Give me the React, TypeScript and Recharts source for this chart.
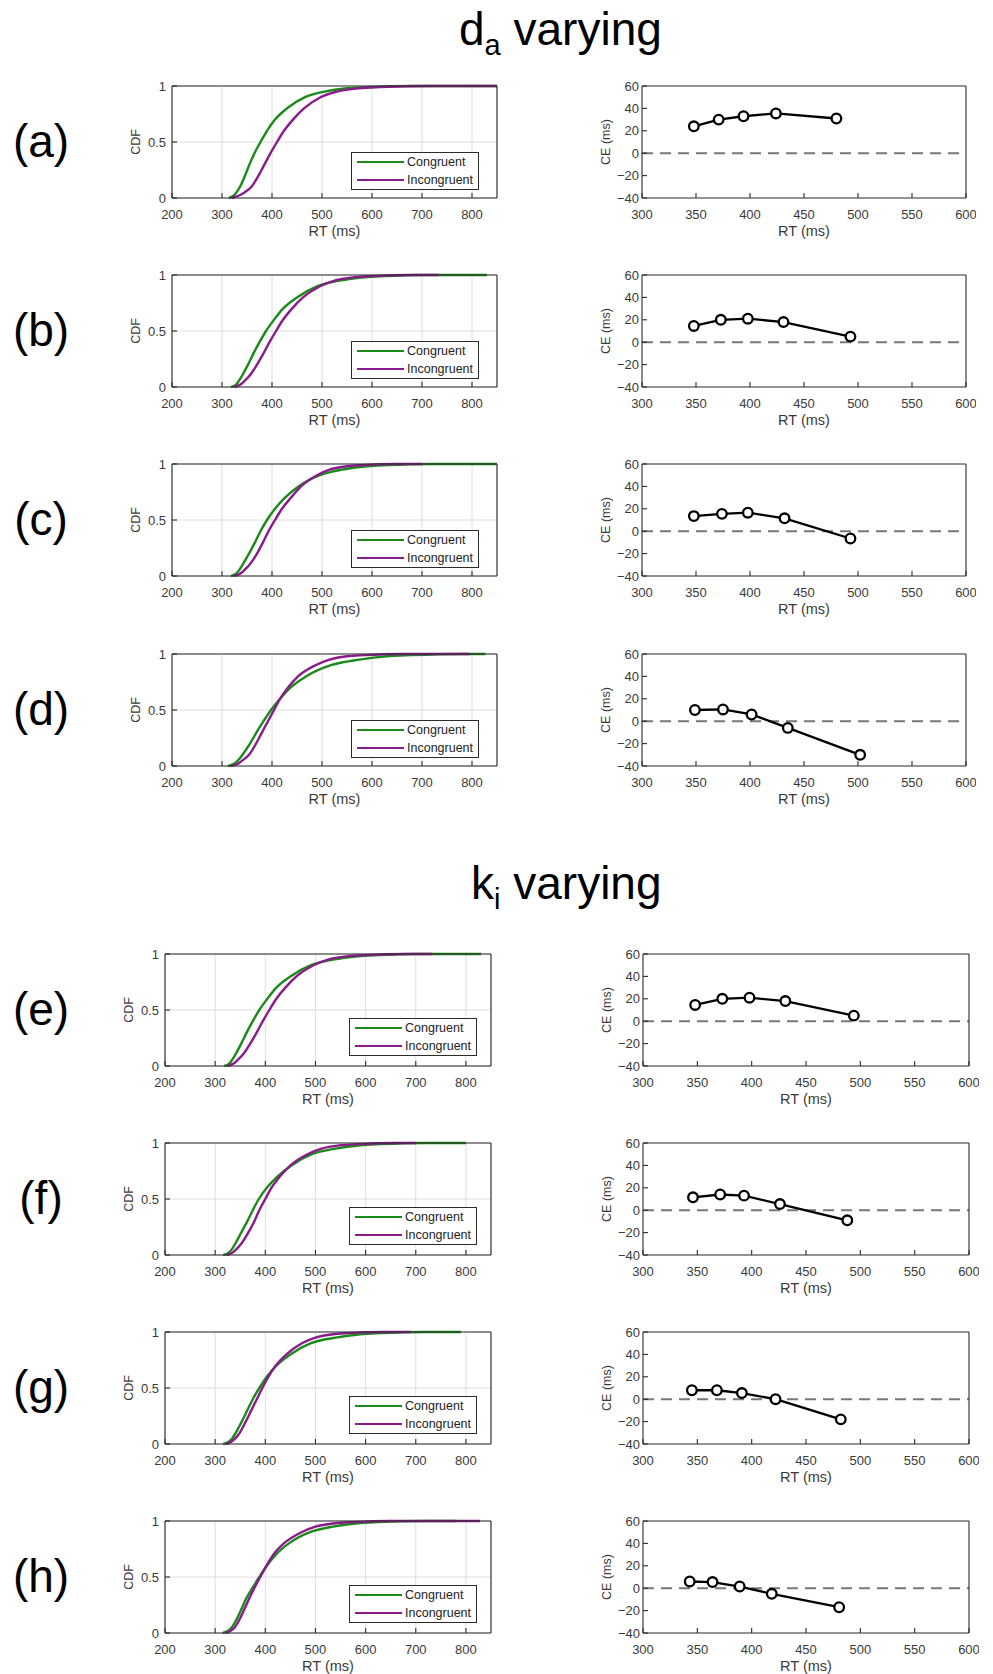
import React from "react";
import {
  LineChart,
  Line,
  XAxis,
  YAxis,
  CartesianGrid,
  Legend,
  ReferenceLine,
} from "recharts";

const FONT = '"Liberation Sans", Arial, sans-serif';
const INK = "#3a3a3a";
const BOX = "#2b2b2b";
const GRID = "#dedede";
const GREEN = "#1b8a1b";
const PURPLE = "#8b1a8b";
const ZERO = "#777777";

// cumulative probability at which each RT distribution is listed
const cdfLevels = [0, 0.02, 0.05, 0.1, 0.2, 0.3, 0.4, 0.5, 0.6, 0.7, 0.8, 0.9, 0.95, 0.98, 0.99, 1];

const cdfTicksX = [200, 300, 400, 500, 600, 700, 800];
const cdfTicksY = [0, 0.5, 1];
const ceTicksX = [300, 350, 400, 450, 500, 550, 600];
const ceTicksY = [-40, -20, 0, 20, 40, 60];

const panelLetters = ["a", "b", "c", "d", "e", "f", "g", "h"];

// RT quantiles (ms) at cdfLevels; *End is where the flat tail of the trace stops
const congA = [314, 323, 329, 336, 346, 355, 365, 377, 390, 406, 430, 466, 505, 550, 590, 680];
const incongA = [320, 333, 345, 359, 373, 385, 397, 410, 424, 442, 464, 497, 530, 575, 615, 720];
const congB = [318, 328, 333, 340, 352, 363, 375, 388, 404, 422, 450, 491, 535, 585, 625, 700];
const incongB = [325, 336, 344, 355, 370, 383, 395, 408, 422, 440, 462, 496, 525, 565, 600, 680];
const congC = [318, 328, 334, 341, 354, 366, 377, 390, 406, 426, 453, 496, 540, 590, 630, 720];
const incongC = [325, 336, 344, 355, 370, 382, 393, 406, 420, 438, 458, 490, 515, 550, 580, 650];
const congD = [312, 324, 332, 341, 356, 369, 383, 398, 416, 437, 468, 518, 575, 630, 680, 780];
const incongD = [318, 332, 341, 354, 368, 380, 392, 404, 416, 432, 452, 487, 515, 550, 585, 660];
const congE = [318, 328, 333, 340, 352, 363, 375, 388, 404, 422, 450, 491, 535, 585, 625, 700];
const incongE = [325, 336, 344, 355, 370, 383, 395, 408, 422, 440, 462, 496, 525, 565, 600, 680];
const congF = [316, 327, 333, 340, 352, 364, 375, 387, 403, 424, 452, 493, 540, 590, 630, 720];
const incongF = [323, 334, 342, 352, 366, 378, 388, 400, 412, 429, 450, 484, 512, 550, 585, 660];
const congG = [316, 327, 334, 341, 353, 364, 375, 388, 403, 422, 450, 491, 540, 590, 630, 720];
const incongG = [322, 332, 340, 349, 361, 372, 383, 394, 406, 421, 442, 473, 500, 535, 565, 640];
const congH = [315, 326, 333, 340, 351, 361, 374, 388, 403, 421, 447, 489, 535, 585, 625, 720];
const incongH = [321, 331, 339, 346, 357, 367, 378, 390, 402, 416, 437, 472, 500, 540, 575, 650];

const congEnd = [850, 830, 850, 827, 830, 800, 790, 780];
const incongEnd = [850, 733, 700, 795, 733, 700, 690, 828];

// conflict effect per quantile bin: mean RT (ms) and CE (ms)
const ceRtA = [348, 371, 394, 424, 480];
const ceA = [24, 30, 33, 35.5, 31];
const ceRtB = [348, 373, 398, 431, 493];
const ceB = [14.5, 20, 21, 18, 5];
const ceRtC = [348, 374, 398, 432, 493];
const ceC = [13.5, 15.5, 16.5, 11.5, -6.5];
const ceRtD = [349, 375, 401.5, 435, 502];
const ceD = [10, 10.5, 6, -6, -30];
const ceRtE = [348, 373, 398, 431, 494];
const ceE = [14.5, 20, 21, 18, 5];
const ceRtF = [346, 371, 393, 426, 488];
const ceF = [11.5, 14, 13, 5.5, -9];
const ceRtG = [345, 368, 391, 422, 482];
const ceG = [8, 8, 5.5, 0, -18];
const ceRtH = [343, 364, 389, 418.5, 480.5];
const ceH = [6, 5.5, 1.5, -5, -17];

const congAll = [congA, congB, congC, congD, congE, congF, congG, congH];
const incongAll = [incongA, incongB, incongC, incongD, incongE, incongF, incongG, incongH];
const ceRtAll = [ceRtA, ceRtB, ceRtC, ceRtD, ceRtE, ceRtF, ceRtG, ceRtH];
const ceAll = [ceA, ceB, ceC, ceD, ceE, ceF, ceG, ceH];

// page layout
const rowTops = [86, 275, 464, 654, 954, 1143, 1332, 1521];
const PLOT_H = 112;
const AXIS_W = 60;
const PAD_T = 10;
const PAD_R = 10;
const AXIS_H = 50;

const toCdf = (rts: number[], end: number) => [
  ...cdfLevels.map((p, i) => ({ rt: rts[i], v: p })),
  { rt: end, v: 1 },
];

const toCe = (rts: number[], ce: number[]) => rts.map((rt, i) => ({ rt, v: ce[i] }));

const minus = (v: number) => (v < 0 ? `\u2212${Math.abs(v)}` : `${v}`);

const tickFont = { fill: INK, fontSize: 13, fontFamily: FONT };
const boxLine = { stroke: BOX, strokeWidth: 1.1 };

const yLabel = (text: string) => ({
  content: (props: any) => {
    const vb = props.viewBox || { x: 0, y: PAD_T, width: AXIS_W, height: PLOT_H };
    const x = vb.x + vb.width - 36;
    const y = vb.y + vb.height / 2;
    return (
      <text
        x={x}
        y={y}
        transform={`rotate(-90 ${x} ${y})`}
        textAnchor="middle"
        dominantBaseline="central"
        fill={INK}
        fontSize={12.5}
        fontFamily={FONT}
      >
        {text}
      </text>
    );
  },
});

const xLabel = {
  value: "RT (ms)",
  position: "insideBottom" as const,
  offset: 12,
  fill: INK,
  fontSize: 14.5,
  fontFamily: FONT,
};

function CdfLegend({ payload }: any) {
  return (
    <div
      style={{
        position: "relative",
        width: 126,
        height: 36,
        border: `1px solid ${BOX}`,
        background: "#fff",
        fontFamily: FONT,
        fontSize: 12.5,
        color: "#222",
      }}
    >
      {(payload || []).map((p: any, i: number) => (
        <React.Fragment key={i}>
          <span
            style={{
              position: "absolute",
              left: 5,
              top: 8 + i * 18,
              width: 47,
              height: 2,
              background: p.color,
            }}
          />
          <span
            style={{
              position: "absolute",
              left: 55,
              top: 2 + i * 18,
              lineHeight: "14px",
              whiteSpace: "nowrap",
            }}
          >
            {p.value}
          </span>
        </React.Fragment>
      ))}
    </div>
  );
}

function CdfPanel({
  idx,
  plotLeft,
  plotW,
  legendRight,
  legendBottom,
}: {
  idx: number;
  plotLeft: number;
  plotW: number;
  legendRight: number;
  legendBottom: number;
}) {
  const top = rowTops[idx];
  const congData = toCdf(congAll[idx], congEnd[idx]);
  const incongData = toCdf(incongAll[idx], incongEnd[idx]);
  return (
    <div style={{ position: "absolute", left: plotLeft - AXIS_W, top: top - PAD_T }}>
      <LineChart
        width={plotW + AXIS_W + PAD_R}
        height={PLOT_H + PAD_T + AXIS_H}
        margin={{ top: PAD_T - 1, right: PAD_R - 1, bottom: 0, left: 0 }}
      >
        <CartesianGrid stroke={GRID} />
        <XAxis
          dataKey="rt"
          type="number"
          domain={[200, 850]}
          ticks={cdfTicksX}
          allowDataOverflow
          height={AXIS_H}
          tickSize={-5}
          tickMargin={17}
          tick={tickFont}
          axisLine={boxLine}
          tickLine={boxLine}
          label={xLabel}
        />
        {/* frame: top and right edges with inward ticks, no labels */}
        <XAxis
          xAxisId="top"
          orientation="top"
          type="number"
          domain={[200, 850]}
          ticks={cdfTicksX}
          height={1}
          tick={false}
          tickSize={-5}
          axisLine={boxLine}
          tickLine={boxLine}
        />
        <YAxis
          type="number"
          domain={[0, 1]}
          ticks={cdfTicksY}
          width={AXIS_W}
          tickSize={-5}
          tickMargin={11}
          tick={tickFont}
          axisLine={boxLine}
          tickLine={boxLine}
          label={yLabel("CDF")}
        />
        <YAxis
          yAxisId="right"
          orientation="right"
          type="number"
          domain={[0, 1]}
          ticks={cdfTicksY}
          width={1}
          tick={false}
          tickSize={-5}
          axisLine={boxLine}
          tickLine={boxLine}
        />
        <Legend
          layout="vertical"
          align="center"
          verticalAlign="middle"
          content={<CdfLegend />}
          wrapperStyle={{
            left: AXIS_W + plotW - legendRight - 128,
            top: PAD_T + PLOT_H - legendBottom - 38,
            width: 128,
            height: 38,
          }}
        />
        <Line
          data={congData}
          dataKey="v"
          name="Congruent"
          type="monotone"
          stroke={GREEN}
          strokeWidth={2.4}
          dot={false}
          isAnimationActive={false}
        />
        <Line
          data={incongData}
          dataKey="v"
          name="Incongruent"
          type="monotone"
          stroke={PURPLE}
          strokeWidth={2.4}
          dot={false}
          isAnimationActive={false}
        />
      </LineChart>
    </div>
  );
}

function CePanel({ idx, plotLeft, plotW }: { idx: number; plotLeft: number; plotW: number }) {
  const top = rowTops[idx];
  const data = toCe(ceRtAll[idx], ceAll[idx]);
  return (
    <div style={{ position: "absolute", left: plotLeft - AXIS_W, top: top - PAD_T }}>
      <LineChart
        width={plotW + AXIS_W + PAD_R}
        height={PLOT_H + PAD_T + AXIS_H}
        margin={{ top: PAD_T - 1, right: PAD_R - 1, bottom: 0, left: 0 }}
      >
        <XAxis
          dataKey="rt"
          type="number"
          domain={[300, 600]}
          ticks={ceTicksX}
          allowDataOverflow
          height={AXIS_H}
          tickSize={-5}
          tickMargin={17}
          tick={tickFont}
          axisLine={boxLine}
          tickLine={boxLine}
          label={xLabel}
        />
        <XAxis
          xAxisId="top"
          orientation="top"
          type="number"
          domain={[300, 600]}
          ticks={ceTicksX}
          height={1}
          tick={false}
          tickSize={-5}
          axisLine={boxLine}
          tickLine={boxLine}
        />
        <YAxis
          type="number"
          domain={[-40, 60]}
          ticks={ceTicksY}
          width={AXIS_W}
          tickSize={-5}
          tickMargin={8}
          tick={tickFont}
          tickFormatter={minus}
          axisLine={boxLine}
          tickLine={boxLine}
          label={yLabel("CE (ms)")}
        />
        <YAxis
          yAxisId="right"
          orientation="right"
          type="number"
          domain={[-40, 60]}
          ticks={ceTicksY}
          width={1}
          tick={false}
          tickSize={-5}
          axisLine={boxLine}
          tickLine={boxLine}
        />
        <ReferenceLine y={0} stroke={ZERO} strokeWidth={2} strokeDasharray="11 7" />
        <Line
          data={data}
          dataKey="v"
          type="linear"
          stroke="#000"
          strokeWidth={2.3}
          dot={{ r: 4.8, stroke: "#000", strokeWidth: 2.3, fill: "#fff" }}
          isAnimationActive={false}
        />
      </LineChart>
    </div>
  );
}

export default function App() {
  return (
    <div
      style={{
        position: "absolute",
        left: 0,
        top: 0,
        width: 993,
        height: 1674,
        background: "#fff",
        fontFamily: FONT,
      }}
    >
      <svg width={993} height={1674} style={{ position: "absolute", left: 0, top: 0 }}>
        <text x={459} y={45} fontSize={46} fontFamily={FONT} fill="#000" style={{ whiteSpace: "pre" }}>
          d
          <tspan fontSize={29} dy={10}>
            a
          </tspan>
          <tspan dy={-10}> varying</tspan>
        </text>
        <text x={471} y={899} fontSize={46} fontFamily={FONT} fill="#000" style={{ whiteSpace: "pre" }}>
          k
          <tspan fontSize={29} dy={10}>
            i
          </tspan>
          <tspan dy={-10}> varying</tspan>
        </text>
        {panelLetters.map((l, i) => (
          <text
            key={l}
            x={41}
            y={rowTops[i] + 71}
            textAnchor="middle"
            fontSize={46}
            fontFamily={FONT}
            fill="#000"
          >
            ({l})
          </text>
        ))}
      </svg>
      {panelLetters.map((l, i) => {
        const upper = i < 4;
        return (
          <React.Fragment key={l}>
            <CdfPanel
              idx={i}
              plotLeft={upper ? 172 : 165}
              plotW={upper ? 325 : 326}
              legendRight={upper ? 18 : 14}
              legendBottom={upper ? 8 : 10}
            />
            <CePanel idx={i} plotLeft={upper ? 642 : 643} plotW={upper ? 324 : 326} />
          </React.Fragment>
        );
      })}
    </div>
  );
}
